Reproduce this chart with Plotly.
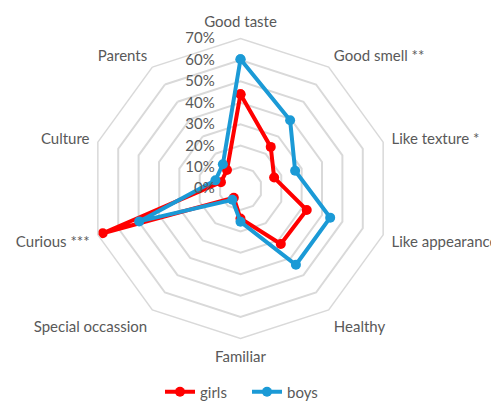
import plotly.graph_objects as go

categories = ["Good taste", "Good smell **", "Like texture *", "Like appearance",
              "Healthy", "Familiar", "Special occassion", "Curious ***",
              "Culture", "Parents"]
girls = [0.44, 0.24, 0.165, 0.325, 0.32, 0.14, 0.053, 0.676, 0.096, 0.107]
boys = [0.603, 0.394, 0.268, 0.44, 0.44, 0.155, 0.065, 0.497, 0.123, 0.14]
radial_ticks = [0, 0.1, 0.2, 0.3, 0.4, 0.5, 0.6, 0.7]

GRID = "#d9d9d9"
TXT = "#595959"
FONT = "Lato"

def closed(v):
    return list(v) + [v[0]]

fig = go.Figure()
fig.add_trace(go.Scatterpolar(
    r=closed(girls), theta=closed(categories), name="girls", mode="lines+markers",
    line=dict(color="#ff0000", width=4), marker=dict(size=10, color="#ff0000")))
fig.add_trace(go.Scatterpolar(
    r=closed(boys), theta=closed(categories), name="boys", mode="lines+markers",
    line=dict(color="#1b9ad6", width=4), marker=dict(size=10, color="#1b9ad6")))

W, H = 499, 401
OFF = 8  # default page body margin
cx, cy_top, R = 240.5 - OFF, 188.5 - OFF, 150
cy = H - cy_top
fig.update_layout(
    width=W, height=H,
    margin=dict(l=0, r=0, t=0, b=0, autoexpand=False),
    paper_bgcolor="white", plot_bgcolor="white",
    font=dict(family=FONT, size=15, color=TXT),
    showlegend=True,
    legend=dict(orientation="h", x=(160 - OFF) / W, xanchor="left",
                y=(H - (392 - OFF)) / H, yanchor="middle",
                entrywidth=42, font=dict(size=15, color=TXT)),
    polar=dict(
        domain=dict(x=[(cx - R) / W, (cx + R) / W], y=[(cy - R) / H, (cy + R) / H]),
        bgcolor="white",
        gridshape="linear",
        angularaxis=dict(direction="clockwise", rotation=90, showgrid=False,
                         showline=True, linecolor=GRID, linewidth=1.5,
                         ticks="outside", ticklen=5, tickcolor="rgba(0,0,0,0)",
                         tickfont=dict(size=15, color=TXT)),
        radialaxis=dict(range=[0, 0.7], tickvals=radial_ticks, tickformat=".0%",
                        ticksuffix="\u00a0\u00a0\u00a0\u00a0\u00a0\u00a0",
                        angle=90, tickangle=90, showline=False, showgrid=True,
                        gridcolor=GRID, gridwidth=1.5, side="counterclockwise",
                        ticks="outside", ticklen=20, tickcolor="rgba(0,0,0,0)",
                        tickfont=dict(size=15, color=TXT)),
    ),
)
fig.write_html("out.html")
